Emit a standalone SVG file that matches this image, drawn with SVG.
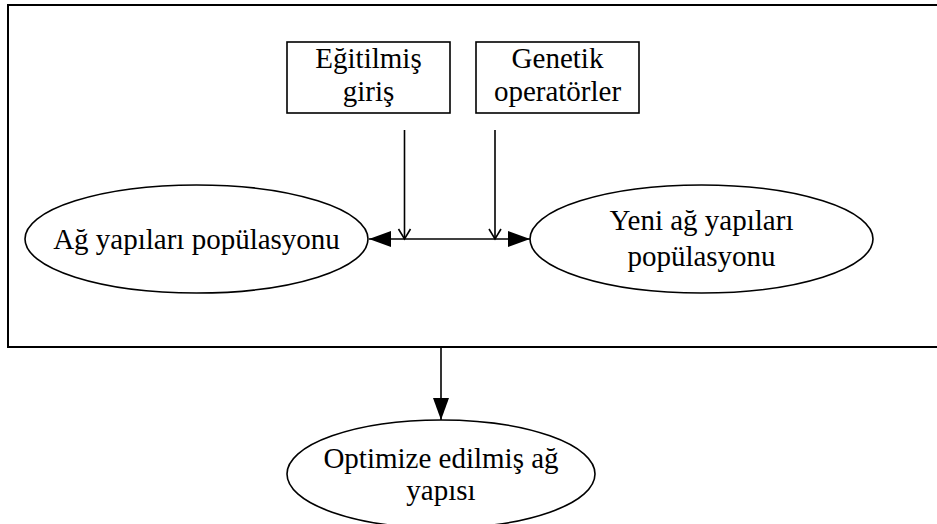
<svg xmlns="http://www.w3.org/2000/svg" width="937" height="524" viewBox="0 0 937 524">
  <style>
    .node { fill: #ffffff; stroke: #000000; stroke-width: 1.6; }
    .label { font-family: "Liberation Serif", "Times New Roman", serif; font-size: 29px; fill: #000000; text-anchor: middle; }
    .edge { fill: none; stroke: #000000; stroke-width: 1.6; }
    .frame { fill: none; stroke: #000000; stroke-width: 2; }
  </style>
  <defs>
    <marker id="solid" markerUnits="userSpaceOnUse" markerWidth="24" markerHeight="18" refX="22" refY="8" orient="auto">
      <path d="M0,0 L22,8 L0,16 Z" fill="#000000"/>
    </marker>
    <marker id="open" markerUnits="userSpaceOnUse" markerWidth="16" markerHeight="16" refX="11" refY="7" orient="auto">
      <path d="M1,1 L11,7 L1,13" fill="none" stroke="#000000" stroke-width="1.6"/>
    </marker>
  </defs>

  <rect width="937" height="524" fill="#ffffff"/>

  <!-- enclosing frame (open on the right side) -->
  <path class="frame" d="M940,5 H8 V347 H940"/>

  <g id="egitilmis-giris">
    <rect class="node" x="287" y="42" width="163" height="71"/>
    <text class="label" x="368.5" y="68">Eğitilmiş</text>
    <text class="label" x="368.5" y="101">giriş</text>
  </g>

  <g id="genetik-operatorler">
    <rect class="node" x="476" y="42" width="163" height="71"/>
    <text class="label" x="557.5" y="68">Genetik</text>
    <text class="label" x="557.5" y="101">operatörler</text>
  </g>

  <g id="ag-yapilari">
    <ellipse class="node" cx="196.5" cy="239" rx="171.5" ry="54"/>
    <text class="label" x="196.5" y="249">Ağ yapıları popülasyonu</text>
  </g>

  <g id="yeni-ag-yapilari">
    <ellipse class="node" cx="701.5" cy="239" rx="171.5" ry="54"/>
    <text class="label" x="701.5" y="230">Yeni ağ yapıları</text>
    <text class="label" x="701.5" y="266">popülasyonu</text>
  </g>

  <g id="optimize">
    <ellipse class="node" cx="441" cy="474" rx="154" ry="54"/>
    <text class="label" x="441" y="468">Optimize edilmiş ağ</text>
    <text class="label" x="441" y="500">yapısı</text>
  </g>

  <g id="connectors">
    <line class="edge" x1="404.5" y1="130" x2="404.5" y2="239" marker-end="url(#open)"/>
    <line class="edge" x1="495" y1="130" x2="495" y2="239" marker-end="url(#open)"/>
    <line class="edge" x1="449" y1="239" x2="369" y2="239" stroke-width="2" marker-end="url(#solid)"/>
    <line class="edge" x1="449" y1="239" x2="530" y2="239" stroke-width="2" marker-end="url(#solid)"/>
    <line class="edge" x1="441" y1="347" x2="441" y2="420" marker-end="url(#solid)"/>
  </g>
</svg>
